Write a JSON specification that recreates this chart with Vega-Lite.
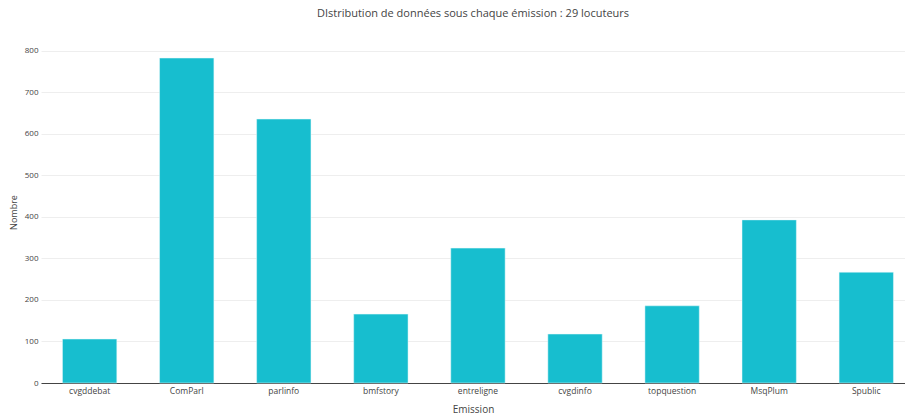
{
  "$schema": "https://vega.github.io/schema/vega-lite/v6.json",
  "width": 864,
  "height": 342,
  "autosize": {"type": "none"},
  "padding": {"left": 41, "top": 41, "right": 0, "bottom": 33},
  "background": "white",
  "title": {
    "text": "DIstribution de données sous chaque émission : 29 locuteurs",
    "font": "Open Sans",
    "fontSize": 11,
    "fontWeight": "normal",
    "color": "#444",
    "anchor": "middle",
    "offset": 22
  },
  "config": {
    "view": {"stroke": null},
    "font": "Open Sans"
  },
  "data": {
    "values": [
      {"Emission": "cvgddebat", "Nombre": 106},
      {"Emission": "ComParl", "Nombre": 783},
      {"Emission": "parlinfo", "Nombre": 636},
      {"Emission": "bmfstory", "Nombre": 166},
      {"Emission": "entreligne", "Nombre": 325},
      {"Emission": "cvgdinfo", "Nombre": 118},
      {"Emission": "topquestion", "Nombre": 186},
      {"Emission": "MsqPlum", "Nombre": 393},
      {"Emission": "Spublic", "Nombre": 267}
    ]
  },
  "mark": {"type": "bar", "color": "#17becf", "stroke": "#e8f8fa", "strokeWidth": 0.5},
  "encoding": {
    "x": {
      "field": "Emission",
      "type": "nominal",
      "sort": null,
      "scale": {"paddingInner": 0.44, "paddingOuter": 0.17, "align": 0.65},
      "axis": {
        "title": "Emission",
        "titleFont": "Open Sans",
        "titleFontSize": 10,
        "titleFontWeight": "normal",
        "titleColor": "#444",
        "titlePadding": 10,
        "labelAngle": 0,
        "labelFontSize": 8.5,
        "labelColor": "#444",
        "labelPadding": 3,
        "ticks": false,
        "domainColor": "#444",
        "domainWidth": 1
      }
    },
    "y": {
      "field": "Nombre",
      "type": "quantitative",
      "scale": {"domain": [0, 824], "nice": false},
      "axis": {
        "title": "Nombre",
        "titleFont": "Open Sans",
        "titleFontSize": 9,
        "titleFontWeight": "normal",
        "titleColor": "#444",
        "titlePadding": 6,
        "values": [0, 100, 200, 300, 400, 500, 600, 700, 800],
        "labelFontSize": 8,
        "labelColor": "#444",
        "labelPadding": 3,
        "ticks": false,
        "domain": false,
        "gridColor": "#eeeeee",
        "gridWidth": 1
      }
    }
  }
}
